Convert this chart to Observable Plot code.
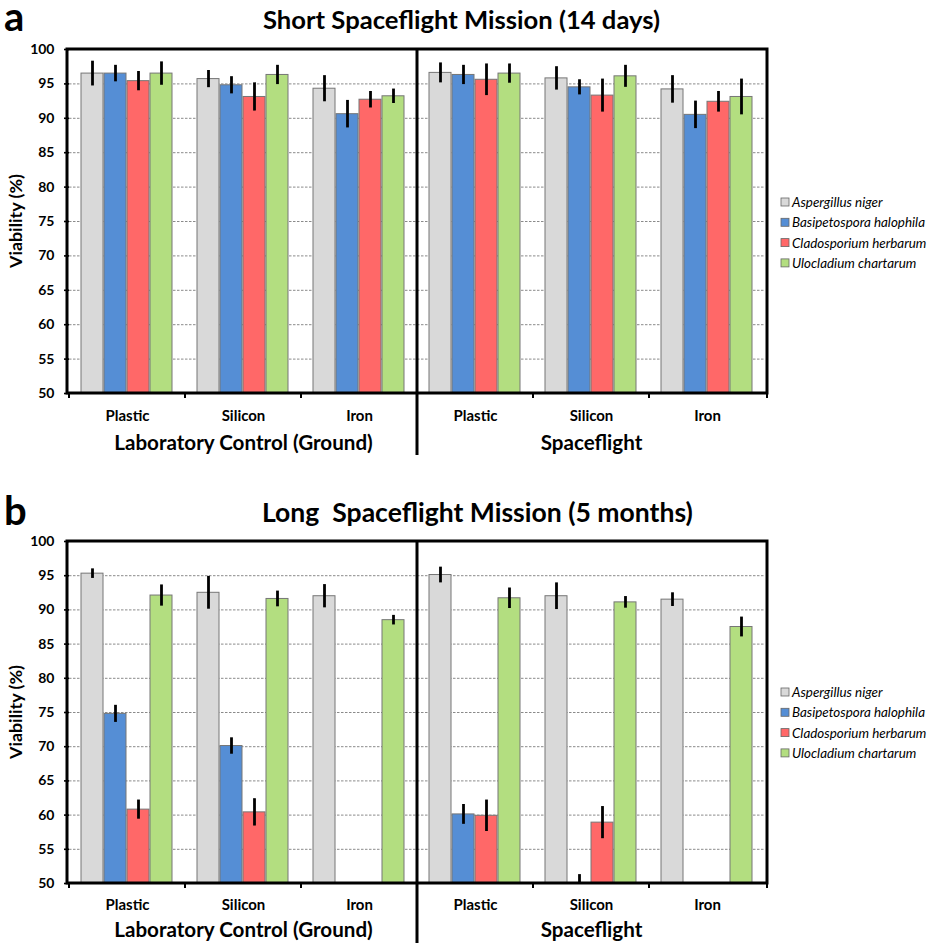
<!DOCTYPE html>
<html>
<head>
<meta charset="utf-8">
<script src="https://cdn.jsdelivr.net/npm/d3@7"></script>
<script src="https://cdn.jsdelivr.net/npm/@observablehq/plot@0.6"></script>
<style>
  body { margin: 0; background: #fff; font-family: Lato, "Open Sans", sans-serif; }
  #root { position: relative; width: 935px; height: 943px; overflow: hidden; background: #fff; }
  #root svg { position: absolute; left: 0; overflow: visible; }
</style>
</head>
<body>
<div id="root"></div>
<script>
// ---------- data ----------
const species = ["Aspergillus niger", "Basipetospora halophila", "Cladosporium herbarum", "Ulocladium chartarum"];
const speciesColors = ["#D9D9D9", "#558ED5", "#FF6868", "#B3DE80"];
const conditions = ["Laboratory Control (Ground)", "Spaceflight"];
const materials = ["Plastic", "Silicon", "Iron"];
const yTicks = [50, 55, 60, 65, 70, 75, 80, 85, 90, 95, 100];

// Short mission (14 days): rows = materials, columns = species
const shortLabMeans   = [[96.5, 96.5, 95.4, 96.5], [95.7, 94.8, 93.1, 96.3], [94.3, 90.6, 92.7, 93.2]];
const shortLabErrors  = [[1.8, 1.2, 1.4, 1.7], [1.25, 1.25, 2.05, 1.4], [1.9, 2.0, 1.2, 1.05]];
const shortFlightMeans  = [[96.6, 96.3, 95.6, 96.5], [95.8, 94.5, 93.3, 96.1], [94.2, 90.5, 92.4, 93.1]];
const shortFlightErrors = [[1.45, 1.4, 2.3, 1.4], [1.7, 1.1, 2.4, 1.6], [2.0, 2.0, 1.5, 2.6]];

// Long mission (5 months)
const longLabMeans   = [[95.3, 74.8, 60.8, 92.1], [92.5, 70.1, 60.4, 91.6], [92.0, null, null, 88.5]];
const longLabErrors  = [[0.7, 1.25, 1.4, 1.55], [2.4, 1.2, 2.0, 1.15], [1.7, null, null, 0.7]];
const longFlightMeans  = [[95.1, 60.1, 59.9, 91.7], [92.0, 49.6, 58.9, 91.1], [91.5, null, null, 87.5]];
const longFlightErrors = [[1.15, 1.45, 2.3, 1.5], [1.95, 1.7, 2.35, 0.85], [1.0, null, null, 1.45]];

const titles = ["Short Spaceflight Mission (14 days)", "Long  Spaceflight Mission (5 months)"];
const panelLetters = ["a", "b"];

// ---------- build ----------
function buildRows(means, errors) {
  const rows = [];
  conditions.forEach((c, ci) => materials.forEach((m, mi) => species.forEach((s, si) => {
    rows.push({key: c + "|" + m, condition: c, material: m, species: s,
      value: means[ci][mi][si], err: errors[ci][mi][si]});
  })));
  return rows;
}
const keys = conditions.flatMap(c => materials.map(m => c + "|" + m));

// scale a text's font so that its rendered width matches a target width
function fitFont(sel, base, target) {
  sel.attr("font-size", base);
  const w = sel.node().getComputedTextLength();
  if (w > 0) sel.attr("font-size", (base * target / w).toFixed(2));
  return sel;
}

function panel(cfg) {
  const rows = buildRows(cfg.means, cfg.errors);
  const mt = 49, ml = 67, mr = 168;
  const H = mt + cfg.plotHeight + cfg.mb;
  const plot = Plot.plot({
    width: 935, height: H,
    marginTop: mt, marginBottom: cfg.mb, marginLeft: ml, marginRight: mr,
    style: {fontFamily: "Lato, sans-serif", fontSize: "14px", fontWeight: "bold", color: "#000", background: "transparent", overflow: "visible"},
    facet: {data: rows, x: "key"},
    fx: {domain: keys, padding: 0, axis: "bottom", label: null, tickSize: 0, tickPadding: cfg.fxPad, tickFormat: k => k.split("|")[1]},
    x: {domain: species, axis: null, paddingInner: 0.04, paddingOuter: 0.45},
    y: {domain: [50, 100], ticks: yTicks, tickSize: 5, tickPadding: 10, label: null},
    color: {domain: species, range: speciesColors},
    marks: [
      Plot.ruleY(yTicks.slice(1, -1), {stroke: "#8a8a8a", strokeWidth: 1, strokeDasharray: "2.5,1.5"}),
      Plot.barY(rows, {filter: d => d.value != null && d.value > 50, x: "species", y1: 50, y2: "value",
        fill: "species", stroke: "#767676", strokeWidth: 1}),
      Plot.ruleX(rows, {filter: d => d.value != null, x: "species",
        y1: d => Math.max(50, d.value - d.err), y2: d => d.value + d.err, stroke: "#000", strokeWidth: 2.8}),
      Plot.text(rows, {filter: d => d.material === "Silicon" && d.species === species[0],
        text: "condition", frameAnchor: "bottom", dy: cfg.condDy, fontSize: 20.6, fill: "#000"})
    ]
  });
  plot.style.top = cfg.top + "px";
  document.getElementById("root").appendChild(plot);

  const svg = d3.select(plot);
  // material tick labels: fit "Plastic" to the reference width, same size for the others
  const matTexts = svg.selectAll("text").filter(function() { return materials.includes(this.textContent); });
  if (!matTexts.empty()) {
    const first = d3.select(matTexts.nodes().find(n => n.textContent === "Plastic") || matTexts.node());
    fitFont(first, 13, 44);
    matTexts.attr("font-size", first.attr("font-size"));
  }
  svg.selectAll('[aria-label="y-axis"] line, [aria-label="y-axis tick"] path').attr("stroke-width", 1.6);

  const T = mt, B = mt + cfg.plotHeight, L = ml, R = 935 - mr;
  let fxs;
  try { fxs = plot.scale("fx"); } catch (e) { fxs = null; }
  const band = d3.scaleBand().domain(keys).range([L, R]).padding(0);
  const fxLeft = k => (fxs && fxs.apply) ? fxs.apply(k) : band(k);
  const bounds = keys.map(fxLeft).concat([R]);

  const deco = svg.append("g").attr("stroke", "#000").attr("fill", "none");
  bounds.forEach(x => deco.append("line").attr("x1", x).attr("x2", x).attr("y1", B).attr("y2", B + 5).attr("stroke-width", 2));
  deco.append("rect").attr("x", L).attr("y", T).attr("width", R - L).attr("height", B - T).attr("stroke-width", 3);
  deco.append("line").attr("x1", bounds[3]).attr("x2", bounds[3]).attr("y1", T).attr("y2", cfg.dividerBottom).attr("stroke-width", 3);

  // y label
  const yl = svg.append("text").attr("transform", `translate(15,${(T + B) / 2}) rotate(-90)`)
    .attr("text-anchor", "middle").attr("dominant-baseline", "central")
    .attr("font-weight", "bold").text("Viability (%)");
  fitFont(yl, 16, 94);

  // panel letter and title
  svg.append("text").attr("x", 4).attr("y", cfg.letterBase).attr("text-anchor", "start")
    .attr("font-size", 40).attr("font-weight", "bold").text(cfg.letter);
  const t = svg.append("text").attr("x", cfg.titleX).attr("y", cfg.titleBase).attr("text-anchor", "start")
    .attr("font-weight", "bold").attr("xml:space", "preserve").style("white-space", "pre").text(cfg.title);
  fitFont(t, 24, cfg.titleWidth);

  // legend
  const lg = svg.append("g").attr("font-style", "italic").attr("font-weight", "normal")
    .attr("text-anchor", "start");
  const legendTexts = [];
  species.forEach((s, i) => {
    const cy = cfg.legendY + i * 20.3;
    lg.append("rect").attr("x", 781).attr("y", cy - 4).attr("width", 8).attr("height", 8)
      .attr("fill", speciesColors[i]).attr("stroke", "#666").attr("stroke-width", 0.8);
    legendTexts.push(lg.append("text").attr("x", 792).attr("y", cy).attr("dominant-baseline", "central").text(s));
  });
  fitFont(legendTexts[1], 12, 133);
  legendTexts.forEach(tx => tx.attr("font-size", legendTexts[1].attr("font-size")));
}

panel({means: [shortLabMeans, shortFlightMeans], errors: [shortLabErrors, shortFlightErrors],
  top: 0, plotHeight: 344, mb: 77, fxPad: 17, condDy: 56, dividerBottom: 455,
  letter: panelLetters[0], letterBase: 31, title: titles[0], titleX: 263, titleBase: 29, titleWidth: 397, legendY: 202});
panel({means: [longLabMeans, longFlightMeans], errors: [longLabErrors, longFlightErrors],
  top: 492, plotHeight: 342, mb: 60, fxPad: 16, condDy: 53, dividerBottom: 451,
  letter: panelLetters[1], letterBase: 33, title: titles[1], titleX: 262, titleBase: 30, titleWidth: 431, legendY: 200});
</script>
</body>
</html>
